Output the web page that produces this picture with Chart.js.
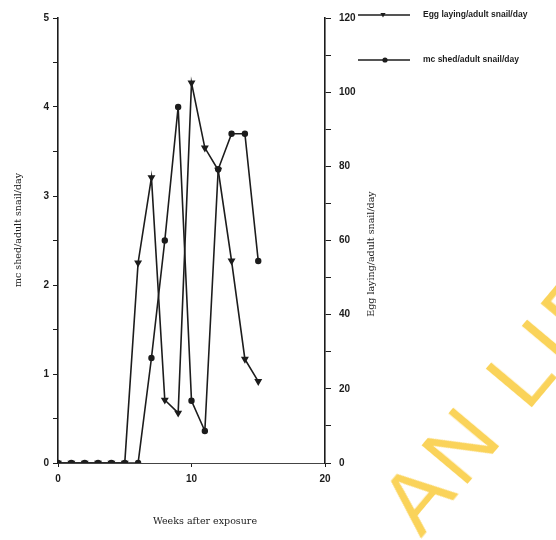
<!DOCTYPE html>
<html>
<head>
<meta charset="utf-8">
<script src="https://cdn.jsdelivr.net/npm/chart.js@4/dist/chart.umd.min.js"></script>
<style>
html, body { margin: 0; padding: 0; background: #fff; }
#wrap { position: relative; width: 556px; height: 540px; overflow: hidden; }
#mark {
    position: absolute; left: 432px; bottom: -8px;
    font: 88px "Liberation Sans", Arial, sans-serif;
    color: #fad35a; letter-spacing: 6px; line-height: 1;
    white-space: nowrap; transform-origin: 0 100%; transform: rotate(-50deg);
    pointer-events: none;
}
</style>
</head>
<body>
<div id="wrap">
    <canvas id="chart" width="556" height="540"></canvas>
    <div id="mark">AN LIBRARY</div>
</div>
<script>
// data
const weeks = [0, 1, 2, 3, 4, 5, 6, 7, 8, 9, 10, 11, 12, 13, 14, 15];
const eggLaying = [0, 0, 0, 0, 0, 0, 54, 77, 17, 13.5, 102.5, 85, 79, 54.5, 28, 22];
const mcShed = [0, 0, 0, 0, 0, 0, 0, 1.18, 2.5, 4.0, 0.7, 0.36, 3.3, 3.7, 3.7, 2.27];

const xTickLabels = [0, 10, 20];
const leftTickLabels = [0, 1, 2, 3, 4, 5];
const rightTickLabels = [0, 20, 40, 60, 80, 100, 120];

const eggLabel = 'Egg laying/adult snail/day';
const mcLabel = 'mc shed/adult snail/day';
const xTitle = 'Weeks after exposure';

const ink = '#1c1c1c';
const tickFont = { family: '"Liberation Sans", Arial, sans-serif', size: 10, weight: 'bold' };

function toPoints(ys) {
    return weeks.map((w, i) => ({ x: w, y: ys[i] }));
}

function marker(ctx, style, x, y, r) {
    ctx.beginPath();
    if (style === 'triangle') {
        ctx.moveTo(x - r, y - r * 0.8);
        ctx.lineTo(x + r, y - r * 0.8);
        ctx.lineTo(x, y + r);
        ctx.closePath();
    } else {
        ctx.arc(x, y, r, 0, Math.PI * 2);
    }
    ctx.fill();
}

// titles and legend sit where the scan has them
const extras = {
    id: 'extras',
    afterDraw(chart) {
        const ctx = chart.ctx;
        ctx.save();
        ctx.fillStyle = ink;
        ctx.strokeStyle = ink;
        ctx.font = '9.5px "DejaVu Serif", serif';
        ctx.textAlign = 'center';
        ctx.textBaseline = 'middle';
        ctx.fillText(xTitle, 205, 522);

        ctx.save();
        ctx.translate(19, 230);
        ctx.rotate(-Math.PI / 2);
        ctx.fillText(mcLabel, 0, 0);
        ctx.restore();

        ctx.save();
        ctx.translate(372, 254);
        ctx.rotate(-Math.PI / 2);
        ctx.fillText(eggLabel, 0, 0);
        ctx.restore();

        // legend
        ctx.lineWidth = 1.3;
        ctx.font = 'bold 8.5px "Liberation Sans", Arial, sans-serif';
        ctx.textAlign = 'left';
        [[eggLabel, 'triangle', 15, 383], [mcLabel, 'circle', 60, 385]].forEach(([txt, st, y, mx]) => {
            ctx.beginPath();
            ctx.moveTo(358, y);
            ctx.lineTo(410, y);
            ctx.stroke();
            marker(ctx, st, mx, y, 2.6);
            ctx.fillText(txt, 423, y);
        });
        ctx.restore();
    }
};

new Chart(document.getElementById('chart'), {
    type: 'line',
    plugins: [extras],
    data: {
        datasets: [
            {
                label: eggLabel,
                data: toPoints(eggLaying),
                yAxisID: 'y2',
                borderColor: ink,
                borderWidth: 1.6,
                pointStyle: 'triangle',
                rotation: 180,
                pointRadius: 3,
                pointBackgroundColor: ink,
                pointBorderColor: ink,
                tension: 0
            },
            {
                label: mcLabel,
                data: toPoints(mcShed),
                yAxisID: 'y',
                borderColor: ink,
                borderWidth: 1.6,
                pointStyle: 'circle',
                pointRadius: 2.4,
                pointBackgroundColor: ink,
                pointBorderColor: ink,
                tension: 0
            }
        ]
    },
    options: {
        responsive: false,
        animation: false,
        layout: { padding: { top: 18 } },
        plugins: {
            legend: { display: false },
            tooltip: { enabled: false }
        },
        scales: {
            x: {
                type: 'linear',
                min: 0,
                max: 20,
                ticks: {
                    stepSize: 10,
                    color: ink,
                    font: tickFont,
                    padding: 6,
                    callback: (v) => xTickLabels.includes(v) ? String(v) : ''
                },
                grid: { drawOnChartArea: false, tickLength: 4, color: ink },
                border: { color: '#444', width: 1, dash: [5, 2] },
                afterFit: (s) => { s.height = 77; }
            },
            y: {
                position: 'left',
                min: 0,
                max: 5,
                ticks: {
                    stepSize: 0.5,
                    color: ink,
                    font: tickFont,
                    padding: 4,
                    callback: (v) => leftTickLabels.includes(v) ? String(v) : ''
                },
                grid: { drawOnChartArea: false, tickLength: 5, color: ink },
                border: { color: ink, width: 1.6 },
                afterFit: (s) => { s.width = 58; }
            },
            y2: {
                position: 'right',
                min: 0,
                max: 120,
                ticks: {
                    stepSize: 10,
                    color: ink,
                    font: tickFont,
                    padding: 8,
                    callback: (v) => rightTickLabels.includes(v) ? String(v) : ''
                },
                grid: { drawOnChartArea: false, tickLength: 6, color: ink },
                border: { color: ink, width: 1.6 },
                afterFit: (s) => { s.width = 231; }
            }
        }
    }
});
</script>
</body>
</html>
